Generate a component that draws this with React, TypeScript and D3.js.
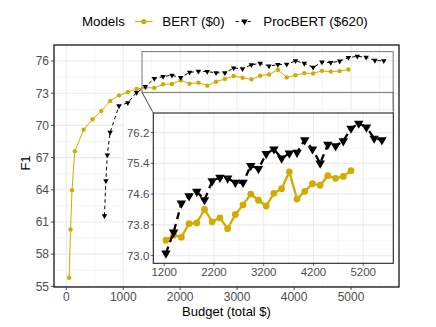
import React from "react";
import * as d3 from "d3";

const bertBudget = [50, 75, 100, 150, 305, 460, 615, 770, 925, 1080, 1235, 1390, 1545, 1700, 1855, 2010, 2165, 2320, 2475, 2630, 2785, 2940, 3095, 3250, 3405, 3560, 3715, 3870, 4025, 4180, 4335, 4490, 4645, 4800, 4955];
const bertF1 = [55.8, 60.3, 63.95, 67.6, 69.6, 70.57, 71.34, 72.27, 72.8, 73.1, 73.4, 73.53, 73.48, 73.83, 73.85, 74.2, 73.88, 73.98, 73.7, 74.07, 74.32, 74.6, 74.44, 74.29, 74.62, 74.74, 75.18, 74.47, 74.67, 74.87, 74.83, 75.08, 75.01, 75.06, 75.21];
const procBudget = [670, 695, 720, 770, 925, 1080, 1235, 1390, 1545, 1700, 1855, 2010, 2165, 2320, 2475, 2630, 2785, 2940, 3095, 3250, 3405, 3560, 3715, 3870, 4025, 4180, 4335, 4490, 4645, 4800, 4955, 5110, 5265, 5420, 5575];
const procF1 = [61.58, 64.84, 67.24, 69.36, 71.81, 72.11, 73.06, 73.61, 74.36, 74.55, 74.67, 74.45, 74.94, 75.03, 75.01, 74.9, 74.9, 75.34, 75.26, 75.65, 75.77, 75.53, 75.66, 75.68, 76.01, 75.77, 75.4, 75.89, 75.85, 75.98, 76.31, 76.44, 76.34, 76.05, 76.01];

const mainXTicks = [0, 1000, 2000, 3000, 4000, 5000];
const mainXMinor = [500, 1500, 2500, 3500, 4500, 5500];
const mainYTicks = [55, 58, 61, 64, 67, 70, 73, 76];
const mainYMinor = [56.5, 59.5, 62.5, 65.5, 68.5, 71.5, 74.5];
const insetXTicks = [1200, 2200, 3200, 4200, 5200];
const insetXMinor = [1700, 2700, 3700, 4700];
const insetYTicks = [73.0, 73.8, 74.6, 75.4, 76.2];
const insetYMinor = [72.6, 73.4, 74.2, 75.0, 75.8, 76.6];
const zoomX = [1330, 5740];
const zoomY = [73.08, 76.87];
const insetMinBudget = 1200;

const seriesNames = ["BERT ($0)", "ProcBERT ($620)"];
const legendTitle = "Models";

const GOLD = "#D3AB00";
const FONT = "'Liberation Sans', Arial, Helvetica, sans-serif";
const GRID = "#EBEBEB";

type P = { x: number; y: number };
const bert: P[] = bertBudget.map((x, i) => ({ x, y: bertF1[i] }));
const proc: P[] = procBudget.map((x, i) => ({ x, y: procF1[i] }));

function tri(cx: number, cy: number, w: number) {
  const h = (w * Math.sqrt(3)) / 2;
  return `M${cx - w / 2},${cy - h / 3}L${cx + w / 2},${cy - h / 3}L${cx},${cy + (2 * h) / 3}Z`;
}

export default function App() {
  // main panel
  const L = 54, R = 399, T = 45, B = 287;
  const x = d3.scaleLinear().domain([-216, 5843]).range([L, R]);
  const y = d3.scaleLinear().domain([54.94, 77.49]).range([B, T]);
  // inset panel
  const iL = 153.3, iR = 393.3, iT = 113, iB = 263.3;
  const ix = d3.scaleLinear().domain([981, 5805]).range([iL, iR]);
  const iy = d3.scaleLinear().domain([72.8, 76.71]).range([iB, iT]);

  const line = d3.line<P>().x((d) => x(d.x)).y((d) => y(d.y));
  const iline = d3.line<P>().x((d) => ix(d.x)).y((d) => iy(d.y));
  const bertIn = bert.filter((d) => d.x > insetMinBudget);
  const procIn = proc.filter((d) => d.x > insetMinBudget);

  const rx0 = x(zoomX[0]), rx1 = x(zoomX[1]);
  const ry0 = y(zoomY[1]), ry1 = y(zoomY[0]);

  return (
    <svg width={436} height={327} style={{ position: "absolute", left: 0, top: 0, background: "#fff" }} fontFamily={FONT}>
      <rect x={0} y={0} width={436} height={327} fill="#fff" />
      {/* legend */}
      <g fontSize={13.3} fill="#000">
        <text x={82} y={26}>{legendTitle}</text>
        <line x1={135} x2={152.7} y1={21.5} y2={21.5} stroke={GOLD} strokeWidth={1} />
        <circle cx={143.8} cy={21.5} r={2.6} fill={GOLD} />
        <text x={162.3} y={26}>{seriesNames[0]}</text>
        <line x1={235.7} x2={253.3} y1={21.5} y2={21.5} stroke="#000" strokeWidth={1} strokeDasharray="3,3" />
        <path d={tri(244.5, 21.5, 6.5)} fill="#000" />
        <text x={263.3} y={26}>{seriesNames[1]}</text>
      </g>

      {/* main grid */}
      <g>
        {mainXMinor.map((t) => (
          <line key={"xm" + t} x1={x(t)} x2={x(t)} y1={T} y2={B} stroke={GRID} strokeWidth={0.55} />
        ))}
        {mainYMinor.map((t) => (
          <line key={"ym" + t} x1={L} x2={R} y1={y(t)} y2={y(t)} stroke={GRID} strokeWidth={0.55} />
        ))}
        {mainXTicks.map((t) => (
          <line key={"xM" + t} x1={x(t)} x2={x(t)} y1={T} y2={B} stroke={GRID} strokeWidth={1.1} />
        ))}
        {mainYTicks.map((t) => (
          <line key={"yM" + t} x1={L} x2={R} y1={y(t)} y2={y(t)} stroke={GRID} strokeWidth={1.1} />
        ))}
      </g>

      {/* main data */}
      <path d={line(bert) || ""} fill="none" stroke={GOLD} strokeWidth={1} />
      {bert.map((d, i) => (
        <circle key={"b" + i} cx={x(d.x)} cy={y(d.y)} r={2.2} fill={GOLD} />
      ))}
      <path d={line(proc) || ""} fill="none" stroke="#000" strokeWidth={1} strokeDasharray="3.5,3" />
      {proc.map((d, i) => (
        <path key={"p" + i} d={tri(x(d.x), y(d.y), 5.5)} fill="#000" />
      ))}

      {/* zoom rectangle and connectors */}
      <rect x={rx0} y={ry0} width={rx1 - rx0} height={ry1 - ry0} fill="none" stroke="#666" strokeWidth={0.9} />
      <line x1={rx0} y1={ry1} x2={iL} y2={iT} stroke="#666" strokeWidth={0.9} />
      <line x1={rx1} y1={ry1} x2={iR} y2={iT} stroke="#666" strokeWidth={0.9} />

      {/* inset */}
      <rect x={124} y={111} width={R - 124} height={282 - 111} fill="#fff" />
      <line x1={rx0} y1={ry1} x2={iL} y2={iT} stroke="#666" strokeWidth={0.9} />
      <line x1={rx1} y1={ry1} x2={iR} y2={iT} stroke="#666" strokeWidth={0.9} />
      <g>
        {insetXMinor.map((t) => (
          <line key={"ixm" + t} x1={ix(t)} x2={ix(t)} y1={iT} y2={iB} stroke={GRID} strokeWidth={0.55} />
        ))}
        {insetYMinor.filter((t) => iy(t) > iT && iy(t) < iB).map((t) => (
          <line key={"iym" + t} x1={iL} x2={iR} y1={iy(t)} y2={iy(t)} stroke={GRID} strokeWidth={0.55} />
        ))}
        {insetXTicks.map((t) => (
          <line key={"ixM" + t} x1={ix(t)} x2={ix(t)} y1={iT} y2={iB} stroke={GRID} strokeWidth={1.1} />
        ))}
        {insetYTicks.map((t) => (
          <line key={"iyM" + t} x1={iL} x2={iR} y1={iy(t)} y2={iy(t)} stroke={GRID} strokeWidth={1.1} />
        ))}
      </g>
      <path d={iline(bertIn) || ""} fill="none" stroke={GOLD} strokeWidth={2.3} />
      {bertIn.map((d, i) => (
        <circle key={"ib" + i} cx={ix(d.x)} cy={iy(d.y)} r={3.4} fill={GOLD} />
      ))}
      <path d={iline(procIn) || ""} fill="none" stroke="#000" strokeWidth={2.3} strokeDasharray="7,5" />
      {procIn.map((d, i) => (
        <path key={"ip" + i} d={tri(ix(d.x), iy(d.y), 9.5)} fill="#000" />
      ))}
      <rect x={iL} y={iT} width={iR - iL} height={iB - iT} fill="none" stroke="#222" strokeWidth={1.1} />
      <g fontSize={11.5} fill="#4D4D4D">
        {insetYTicks.map((t) => (
          <g key={"iyl" + t}>
            <line x1={iL - 2.5} x2={iL} y1={iy(t)} y2={iy(t)} stroke="#333" strokeWidth={0.8} />
            <text x={iL - 4} y={iy(t)} dy="0.36em" textAnchor="end">{t.toFixed(1)}</text>
          </g>
        ))}
        {insetXTicks.map((t) => (
          <g key={"ixl" + t}>
            <line x1={ix(t)} x2={ix(t)} y1={iB} y2={iB + 2.5} stroke="#333" strokeWidth={0.8} />
            <text x={ix(t)} y={iB + 12.5} textAnchor="middle">{t}</text>
          </g>
        ))}
      </g>

      {/* main border & axes */}
      <rect x={L} y={T} width={R - L} height={B - T} fill="none" stroke="#000" strokeWidth={1.2} />
      <g fontSize={12} fill="#4D4D4D">
        {mainYTicks.map((t) => (
          <g key={"yl" + t}>
            <line x1={L - 3} x2={L} y1={y(t)} y2={y(t)} stroke="#333" strokeWidth={0.9} />
            <text x={L - 5} y={y(t)} dy="0.36em" textAnchor="end">{t}</text>
          </g>
        ))}
        {mainXTicks.map((t) => (
          <g key={"xl" + t}>
            <line x1={x(t)} x2={x(t)} y1={B} y2={B + 3} stroke="#333" strokeWidth={0.9} />
            <text x={x(t)} y={B + 14} textAnchor="middle">{t}</text>
          </g>
        ))}
      </g>
      <text x={226.5} y={316} fontSize={13} textAnchor="middle" fill="#000">Budget (total $)</text>
      <text transform="translate(30,163) rotate(-90)" fontSize={13} textAnchor="middle" fill="#000">F1</text>
    </svg>
  );
}
